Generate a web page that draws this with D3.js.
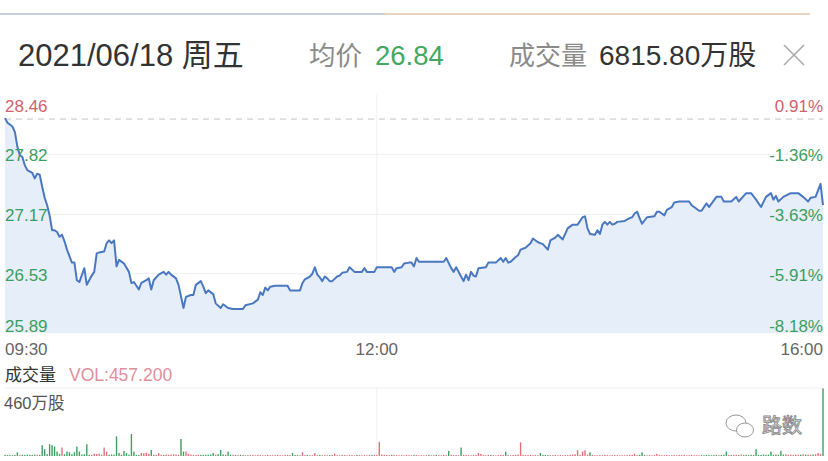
<!DOCTYPE html>
<html><head><meta charset="utf-8">
<script src="https://cdn.jsdelivr.net/npm/d3@7"></script>
<style>
html,body{margin:0;padding:0;background:#fff;}
svg{display:block;font-family:"Liberation Sans",Arial,"Noto Sans CJK SC",sans-serif;}
</style>
</head><body>
<svg id="c" width="828" height="461"></svg>
<script>
// ---------- DATA ----------
const headerDate = "2021/06/18 周五";
const avgLabel = "均价", avgValue = "26.84";
const volTitle = "成交量", volTotal = "6815.80万股";
const prevClose = 28.20;
const priceTicks = [28.46, 27.82, 27.17, 26.53, 25.89];
const pctTicks = ["0.91%", "-1.36%", "-3.63%", "-5.91%", "-8.18%"];
const timeTickMinutes = [0, 150, 330];
const timeTickLabels = ["09:30", "12:00", "16:00"];
const volMax = 460;
const volMaxLabel = "460万股";
const volSelected = "VOL:457.200";

// [minute since open (lunch removed), price]
const pricePoints = [
[0,28.21],[1,28.16],[3,28.12],[4,28.06],[5,27.90],[6,27.81],[7,27.79],[8,27.70],[9,27.65],[11,27.62],
[12,27.56],[13,27.61],[14,27.60],[15,27.47],[16,27.35],[17,27.27],[18,27.16],[19,27.00],[20,27.00],[21,26.98],
[22,26.93],[23,26.95],[24,26.88],[25,26.79],[27,26.65],[28,26.65],[29,26.46],[30,26.44],[32,26.59],[33,26.41],
[35,26.51],[36,26.55],[37,26.75],[38,26.76],[40,26.77],[41,26.86],[42,26.89],[43,26.86],[44,26.89],[45,26.61],
[46,26.68],[48,26.64],[50,26.55],[51,26.43],[52,26.44],[54,26.36],[55,26.43],[57,26.46],[58,26.48],[59,26.36],
[60,26.46],[62,26.52],[64,26.55],[65,26.52],[66,26.55],[67,26.52],[69,26.48],[70,26.41],[72,26.16],[73,26.28],
[75,26.30],[76,26.30],[77,26.41],[79,26.45],[80,26.39],[81,26.32],[82,26.35],[84,26.31],[85,26.21],[87,26.16],
[88,26.20],[90,26.16],[92,26.15],[96,26.15],[97,26.19],[100,26.21],[102,26.25],[103,26.33],[104,26.30],[105,26.38],
[106,26.35],[107,26.39],[109,26.40],[114,26.40],[115,26.35],[119,26.35],[120,26.43],[121,26.47],[123,26.50],[124,26.53],
[125,26.60],[126,26.52],[127,26.49],[128,26.45],[129,26.50],[130,26.48],[131,26.45],[132,26.45],[134,26.50],[135,26.51],
[136,26.54],[138,26.55],[139,26.60],[141,26.55],[144,26.55],[145,26.59],[146,26.55],[149,26.55],[150,26.60],[156,26.60],
[157,26.55],[158,26.59],[160,26.60],[161,26.64],[163,26.65],[164,26.65],[165,26.61],[166,26.70],[167,26.66],[177,26.66],
[178,26.70],[180,26.59],[181,26.55],[182,26.60],[184,26.50],[185,26.45],[186,26.52],[187,26.46],[188,26.55],[189,26.51],
[190,26.50],[191,26.59],[194,26.60],[195,26.65],[198,26.65],[200,26.70],[201,26.66],[202,26.70],[203,26.65],[204,26.66],
[206,26.71],[207,26.73],[208,26.79],[210,26.81],[212,26.86],[213,26.91],[215,26.87],[217,26.85],[219,26.79],[220,26.89],
[222,26.92],[223,26.95],[225,26.90],[227,27.02],[229,27.06],[231,27.06],[233,27.14],[234,27.15],[235,27.02],[236,26.96],
[238,26.95],[239,27.00],[240,26.96],[241,27.06],[242,27.09],[243,27.06],[244,27.09],[245,27.06],[246,27.07],[247,27.09],
[250,27.10],[252,27.13],[253,27.14],[254,27.18],[255,27.20],[256,27.13],[257,27.07],[259,27.14],[262,27.15],[263,27.20],
[264,27.20],[266,27.16],[267,27.22],[269,27.25],[270,27.30],[272,27.31],[276,27.31],[277,27.27],[278,27.25],[280,27.21],
[281,27.21],[283,27.29],[284,27.25],[287,27.36],[289,27.36],[290,27.31],[293,27.31],[295,27.36],[296,27.31],[299,27.40],
[301,27.40],[303,27.33],[305,27.25],[307,27.36],[309,27.40],[310,27.33],[311,27.37],[312,27.31],[314,27.36],[317,27.40],
[320,27.40],[322,27.36],[324,27.31],[325,27.35],[327,27.36],[329,27.50],[330,27.27]
];

// volume per minute (万股), minute 0..330
const volumes = [
8,6,6,5,7,25,6,8,7,9,
8,7,10,9,8,73,46,12,80,73,
64,30,14,57,12,30,25,12,25,64,
30,10,12,80,8,7,15,14,15,9,
57,30,8,10,9,133,20,8,35,20,
9,149,30,8,7,20,18,22,16,41,
10,8,20,9,7,10,8,9,12,10,
8,115,30,30,15,10,8,7,9,8,
7,8,9,10,20,9,12,41,10,8,
30,9,8,7,6,8,7,6,5,6,
6,5,7,6,5,6,7,6,5,6,
7,6,5,8,7,6,20,7,6,5,
25,6,7,6,5,20,6,7,5,6,
5,6,7,15,6,5,6,7,5,6,
6,5,7,6,5,6,5,7,6,8,
6,96,10,8,7,6,8,7,6,5,
6,5,7,6,5,6,7,5,6,5,
6,7,5,6,8,6,5,7,6,34,
8,6,7,6,57,8,7,6,5,6,
7,20,15,6,5,8,7,6,5,6,
7,8,30,6,5,7,8,10,92,8,
7,6,8,6,7,5,20,8,7,6,
5,6,7,5,6,5,7,6,8,10,
12,39,8,30,39,10,25,8,6,5,
6,5,7,6,5,6,7,6,5,6,
5,6,7,8,15,6,7,25,6,5,
6,5,7,15,6,5,6,7,5,6,
6,5,7,6,8,5,6,7,5,6,
5,6,5,7,6,5,6,8,6,7,
8,30,7,6,8,7,6,10,7,8,
6,8,7,46,8,7,10,8,9,30,
8,10,9,35,10,12,8,9,7,10,
8,9,12,10,9,8,10,12,20,15,
457.2
];
// bar colour per minute: r = up (red), g = down (green)
const volDirs = (
"ggggggrggg" + "gggrgggggg" + "gggrgggggg" + "gggggrrrrr" + "rrgggggggg" +
"gggggrrrrg" + "rrrrgrrrrr" + "rggrrrrrrg" + "gggggrgggg" + "ggrgrgrrgr" +
"rrrrrrrrrr" + "rrrrrrgggr" + "rrgrrrrgrr" + "rgrrrrgrrr" + "rrgrrrrrgr" +
"rrrrrrgrrr" + "rrrrrgrrrr" + "rgrrgrrrrg" + "rrrrgrrrrr" + "rrrrrrgrrr" +
"rrgrrrrrrr" + "rrrrrrgggg" + "grrrrrrrrr" + "rrrrrrgrrr" + "rrrrrrrrrr" +
"rrrrrrgggr" + "rrrrrrrrrr" + "rrrrrrrrrr" + "rgggggggrg" + "ggrgrrgrrg" +
"gggggggggg" + "gggggrrrrr" + "rgrgrrgrrr" + "g").split("");

// ---------- DRAW ----------
const svg = d3.select("#c");
const RED = "#d4606c", GREEN = "#3b9e5e", GRAY = "#8a8a8a";

// top strip line
svg.append("line").attr("x1",0).attr("x2",385).attr("y1",14).attr("y2",14)
  .attr("stroke","#b3c0cf").attr("stroke-width",1.5);
svg.append("line").attr("x1",385).attr("x2",810).attr("y1",14).attr("y2",14)
  .attr("stroke","#e2c9a8").attr("stroke-width",1.5);

// header
svg.append("text").attr("x",18).attr("y",66).attr("font-size",31).attr("fill","#333").text(headerDate);
svg.append("text").attr("x",309).attr("y",65).attr("font-size",26.5).attr("fill",GRAY).text(avgLabel);
svg.append("text").attr("x",375).attr("y",65).attr("font-size",27.5).attr("fill","#45a862").text(avgValue);
svg.append("text").attr("x",509).attr("y",65).attr("font-size",26).attr("fill",GRAY).text(volTitle);
svg.append("text").attr("x",599).attr("y",65).attr("font-size",28).attr("fill","#333").text(volTotal);
svg.append("line").attr("x1",784).attr("y1",45).attr("x2",804).attr("y2",65).attr("stroke","#aaa").attr("stroke-width",1.6);
svg.append("line").attr("x1",804).attr("y1",45).attr("x2",784).attr("y2",65).attr("stroke","#aaa").attr("stroke-width",1.6);

// scales
const x = d3.scaleLinear().domain([0,330]).range([5,823]);
const y = d3.scaleLinear().domain([priceTicks[4], priceTicks[0]]).range([333,95]);

// grid
const g = svg.append("g");
g.selectAll("line.h").data(priceTicks.slice(1,4)).join("line")
  .attr("x1",x(0)).attr("x2",x(330)).attr("y1",d=>y(d)).attr("y2",d=>y(d))
  .attr("stroke","#efefef").attr("stroke-width",1);
g.append("line").attr("x1",x(150)).attr("x2",x(150)).attr("y1",y(priceTicks[0])).attr("y2",y(priceTicks[4]))
  .attr("stroke","#efefef");

// area + line
const area = d3.area().x(d=>x(d[0])).y0(y(priceTicks[4])).y1(d=>y(d[1]));
svg.append("path").datum(pricePoints).attr("d",area).attr("fill","#e6eefa");
svg.append("line").attr("x1",x(0)).attr("x2",x(330)).attr("y1",y(prevClose)).attr("y2",y(prevClose))
  .attr("stroke","#c4c4c4").attr("stroke-width",1).attr("stroke-dasharray","6,5");
const line = d3.line().x(d=>x(d[0])).y(d=>y(d[1]));
svg.append("path").datum(pricePoints).attr("d",line).attr("fill","none")
  .attr("stroke","#4a78c0").attr("stroke-width",2).attr("stroke-linejoin","round");

// y labels
const yl = svg.append("g").attr("font-size",17);
priceTicks.forEach((v,i)=>{
  const yy = i===0 ? y(v)+17 : (i===4 ? y(v)-1.5 : y(v)+7);
  const col = i===0 ? RED : GREEN;
  yl.append("text").attr("x",5).attr("y",yy).attr("fill",col).text(v.toFixed(2));
  yl.append("text").attr("x",823).attr("y",yy).attr("text-anchor","end").attr("fill",col).text(pctTicks[i]);
});
// time labels
timeTickMinutes.forEach((m,i)=>{
  svg.append("text").attr("x",x(m)).attr("y",355).attr("font-size",17).attr("fill","#666")
    .attr("text-anchor", i===0?"start":(i===2?"end":"middle")).text(timeTickLabels[i]);
});

// volume panel
svg.append("text").attr("x",5).attr("y",381).attr("font-size",17).attr("fill","#333").text(volTitle);
svg.append("text").attr("x",69).attr("y",381).attr("font-size",17.5).attr("fill","#df8e9c").text(volSelected);
svg.append("text").attr("x",4).attr("y",409).attr("font-size",16.5).attr("fill","#555").text(volMaxLabel);

const yv = d3.scaleLinear().domain([0,volMax]).range([456,388]);
svg.append("line").attr("x1",x(0)).attr("x2",x(330)).attr("y1",yv(volMax)).attr("y2",yv(volMax)).attr("stroke","#f0f0f0");
svg.append("line").attr("x1",x(150)).attr("x2",x(150)).attr("y1",yv(volMax)).attr("y2",yv(0)).attr("stroke","#f0f0f0");

svg.append("g").selectAll("rect").data(volumes).join("rect")
  .attr("x",(d,i)=>x(i)-0.7).attr("width",1.4)
  .attr("y",d=>yv(d)).attr("height",d=>yv(0)-yv(d))
  .attr("fill",(d,i)=>volDirs[i]==="r" ? "#e0707a" : "#3ea060");

// watermark
const wm = svg.append("g");
wm.append("ellipse").attr("cx",736).attr("cy",423).attr("rx",10).attr("ry",8)
  .attr("fill","#fff").attr("stroke","#999").attr("stroke-width",1);
wm.append("ellipse").attr("cx",745).attr("cy",430).attr("rx",8.5).attr("ry",7)
  .attr("fill","#fff").attr("stroke","#999").attr("stroke-width",1);
wm.append("text").attr("x",762).attr("y",433).attr("font-size",20).attr("fill","#fff")
  .attr("stroke","#888").attr("stroke-width",0.9).attr("font-family","Noto Sans CJK SC").text("路数");
</script>
</body></html>
